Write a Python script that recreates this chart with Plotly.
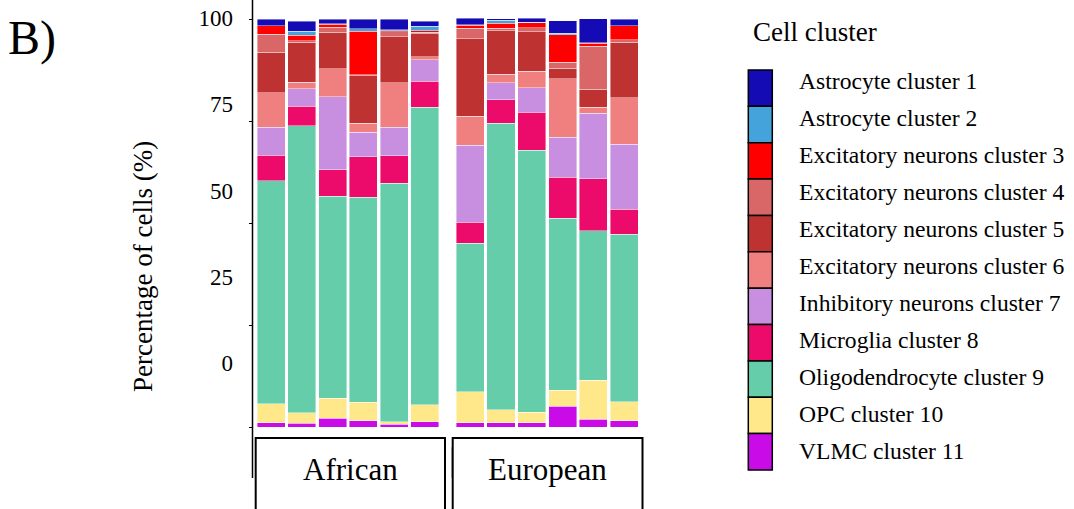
import plotly.graph_objects as go

# ---------------- data ----------------
clusters = [
    "Astrocyte cluster 1", "Astrocyte cluster 2", "Excitatory neurons cluster 3",
    "Excitatory neurons cluster 4", "Excitatory neurons cluster 5", "Excitatory neurons cluster 6",
    "Inhibitory neurons cluster 7", "Microglia cluster 8", "Oligodendrocyte cluster 9",
    "OPC cluster 10", "VLMC cluster 11",
]
colors = ["#150BB5", "#44A3DA", "#FF0000", "#DA6767", "#BF3232", "#F08080",
          "#C88EE0", "#EC0A6B", "#66CDAA", "#FFE88A", "#C90BE8"]

groups = ["African", "European"]
african_samples = ["AF1", "AF2", "AF3", "AF4", "AF5", "AF6"]
european_samples = ["EU1", "EU2", "EU3", "EU4", "EU5", "EU6"]

# percentages, 6 African samples then 6 European samples
astro1 = [1.6, 2.5, 1.1, 2.3, 2.5, 1.3, 1.6, 0.4, 1.0, 3.1, 5.9, 1.6]
astro2 = [0.1, 1.0, 0.1, 0.6, 0.3, 1.1, 0.1, 0.8, 0.1, 0.3, 0.1, 0.1]
exc3 = [2.0, 1.3, 0.7, 10.7, 0.2, 0.4, 0.8, 1.2, 1.2, 6.8, 0.8, 3.4]
exc4 = [4.4, 0.4, 1.2, 0.2, 1.2, 0.3, 2.5, 0.6, 1.0, 1.5, 10.5, 0.6]
exc5 = [10.0, 9.8, 9.0, 11.6, 11.3, 5.6, 19.0, 10.6, 9.7, 2.6, 4.4, 13.6]
exc6 = [8.4, 1.6, 6.8, 2.3, 10.9, 0.8, 7.1, 2.1, 4.1, 14.3, 1.5, 11.4]
inh7 = [6.9, 4.3, 18.0, 5.9, 7.0, 5.3, 18.9, 4.2, 5.9, 9.8, 16.1, 15.9]
micro8 = [6.2, 4.8, 6.5, 10.0, 6.8, 6.3, 5.2, 5.7, 9.4, 10.0, 12.7, 6.1]
oligo9 = [54.7, 70.3, 49.4, 50.2, 58.4, 73.0, 36.4, 70.3, 64.2, 42.2, 36.7, 41.1]
opc10 = [4.6, 2.6, 5.0, 4.6, 0.6, 4.1, 7.5, 3.1, 2.5, 3.9, 9.5, 4.7]
vlmc11 = [1.1, 0.9, 2.1, 1.5, 0.7, 1.3, 1.1, 1.1, 1.1, 5.1, 1.9, 1.5]

series = [astro1, astro2, exc3, exc4, exc5, exc6, inh7, micro8, oligo9, opc10, vlmc11]

tick_vals = [0, 25, 50, 75, 100]
tick_labels = ["0", "25", "50", "75", "100"]

# ---------------- layout helpers ----------------
W, H = 1074, 509
PLOT_BOTTOM = 427  # pixel of 0 %
FONT = "Liberation Serif, Times New Roman, serif"


def px(x):
    return x / W


def py(y):
    return (PLOT_BOTTOM - y) / PLOT_BOTTOM


fig = go.Figure()

# stack from the bottom (VLMC) to the top (Astrocyte 1)
for name, col, vals in reversed(list(zip(clusters, colors, series))):
    fig.add_trace(go.Bar(x=african_samples, y=vals[:6], name=name, marker_color=col,
                         marker_line=dict(color="rgba(255,255,255,0.7)", width=0.6),
                         xaxis="x", yaxis="y", showlegend=False))
    fig.add_trace(go.Bar(x=european_samples, y=vals[6:], name=name, marker_color=col,
                         marker_line=dict(color="rgba(255,255,255,0.7)", width=0.6),
                         xaxis="x2", yaxis="y", showlegend=False))

# empty trace so the (offset) label axis is drawn
fig.add_trace(go.Scatter(x=[], y=[], xaxis="x", yaxis="y2", showlegend=False,
                         hoverinfo="skip"))

shapes = []
# y axis line
shapes.append(dict(type="line", xref="paper", yref="paper", x0=px(252.5), x1=px(252.5),
                   y0=py(478), y1=py(0), line=dict(color="black", width=1.5)))
# facet strip boxes
shapes.append(dict(type="rect", xref="paper", yref="paper", x0=px(255.7), x1=px(445),
                   y0=py(540), y1=py(438), line=dict(color="black", width=2)))
shapes.append(dict(type="rect", xref="paper", yref="paper", x0=px(452.7), x1=px(642.5),
                   y0=py(540), y1=py(438), line=dict(color="black", width=2)))
shapes.append(dict(type="line", xref="paper", yref="paper", x0=px(451.5), x1=px(451.5),
                   y0=py(478), y1=py(447), line=dict(color="#888888", width=1)))

annotations = []
# legend drawn as a colour column
blk_top, blk_h = 70, 36.36
for i, (name, col) in enumerate(zip(clusters, colors)):
    shapes.append(dict(type="rect", xref="paper", yref="paper", x0=px(748.3), x1=px(772.3),
                       y0=py(blk_top + blk_h * (i + 1)), y1=py(blk_top + blk_h * i),
                       fillcolor=col, line=dict(color="black", width=1.5)))
    annotations.append(dict(text=name, xref="paper", yref="paper", x=px(797), y=py(81 + 37 * i),
                            xanchor="left", yanchor="middle", showarrow=False,
                            font=dict(family=FONT, size=23.6, color="black")))

annotations.append(dict(text="Cell cluster", xref="paper", yref="paper", x=px(751), y=py(32),
                        xanchor="left", yanchor="middle", showarrow=False,
                        font=dict(family=FONT, size=27, color="black")))
annotations.append(dict(text="B)", xref="paper", yref="paper", x=px(6), y=py(38),
                        xanchor="left", yanchor="middle", showarrow=False,
                        font=dict(family=FONT, size=48, color="black")))
annotations.append(dict(text="Percentage of cells (%)", xref="paper", yref="paper",
                        x=px(143), y=py(267), textangle=-90, xanchor="center", yanchor="middle",
                        showarrow=False, font=dict(family=FONT, size=27, color="black")))
for g, cx in zip(groups, [350.3, 547.6]):
    annotations.append(dict(text=g, xref="paper", yref="paper", x=px(cx), y=py(470),
                            xanchor="center", yanchor="middle", showarrow=False,
                            font=dict(family=FONT, size=31, color="black")))

fig.update_layout(
    width=W, height=H,
    margin=dict(l=0, r=0, t=0, b=H - PLOT_BOTTOM),
    paper_bgcolor="white", plot_bgcolor="white",
    barmode="stack", bargap=0.09,
    showlegend=False,
    xaxis=dict(domain=[px(255.8), px(440.3)], range=[-0.5, 5.5], type="category",
               visible=False, anchor="y"),
    xaxis2=dict(domain=[px(454.8), px(639.7)], range=[-0.5, 5.5], type="category",
                visible=False, anchor="y"),
    yaxis=dict(domain=[0, 1], range=[0, 100 * PLOT_BOTTOM / 408], tickvals=tick_vals,
               ticks="outside", ticklen=4, tickwidth=1.3, tickcolor="black",
               showticklabels=False, showgrid=False, zeroline=False, showline=False,
               anchor="free", position=px(252.5)),
    yaxis2=dict(overlaying="y", anchor="free", position=px(233), side="left",
                range=[-18.55, 105.22], tickvals=tick_vals, ticktext=tick_labels,
                ticks="", showgrid=False, zeroline=False, showline=False,
                tickfont=dict(family=FONT, size=23, color="black")),
    shapes=shapes,
    annotations=annotations,
)

fig.write_html("out.html", config={"displayModeBar": False},
               post_script="document.body.style.margin='0';document.body.style.overflow='hidden';")
